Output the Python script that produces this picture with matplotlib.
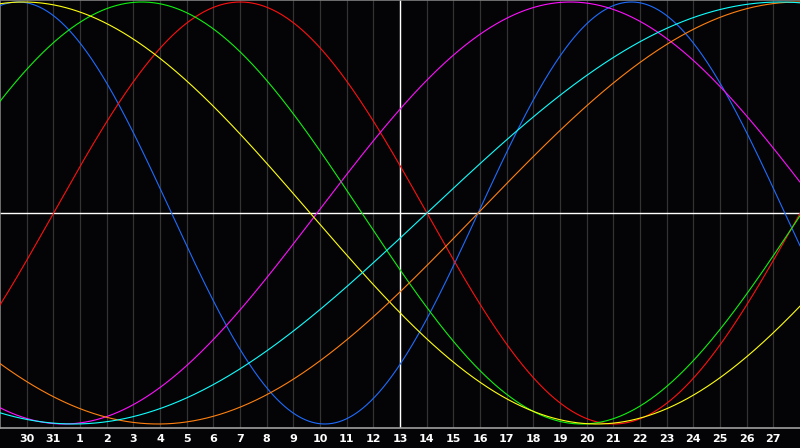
import matplotlib
matplotlib.use("Agg")
import matplotlib.pyplot as plt
import numpy as np

# day labels along the bottom (one grid column per day)
day_labels = ["30", "31"] + [str(d) for d in range(1, 28)]

# cycle lengths in days
periods = [23, 28, 33, 38, 43, 48, 53]
# column position of an upward zero crossing for each cycle
rise_day = [17.93, 2.01, -2.93, 11.89, -9.87, 17.93, 16.01]
colours = ["#1e6cff", "#ff1010", "#10f010", "#ff10ff", "#ffff10", "#ff8010", "#10ffff"]
draw_order = [0, 1, 2, 3, 6, 5, 4]

today_col = 15  # the "13" column with the white cursor line
n_cols = 30


def cycle(u, period, start):
    return np.sin(2 * np.pi * (u - start) / period)


def main():
    fig = plt.figure(figsize=(8, 4.48), dpi=100, facecolor="#040406")
    ax = fig.add_axes([0, 20 / 448, 1, 428 / 448])
    ax.set_facecolor("#040406")
    ax.set_xlim(0, n_cols)
    ax.set_ylim(-1.019, 1.0095)

    for i in range(1, n_cols):
        ax.axvline(i, color="#333333", lw=0.9, zorder=1)

    ax.axhline(0, color="white", lw=1.0, zorder=2)
    ax.axvline(today_col, color="white", lw=1.0, zorder=2)

    u = np.linspace(0, n_cols, 1200)
    for k in draw_order:
        ax.plot(u, cycle(u, periods[k], rise_day[k]), color=colours[k],
                lw=0.8, zorder=3 + k)

    for s in ["right"]:
        ax.spines[s].set_visible(False)
    ax.spines["left"].set_color("#808080")
    ax.spines["top"].set_color("#808080")
    ax.spines["bottom"].set_color("#a0a0a0")
    for s in ["left", "top", "bottom"]:
        ax.spines[s].set_linewidth(1.2)

    ax.set_xticks(range(1, len(day_labels) + 1))
    ax.set_xticklabels(day_labels, color="white", fontsize=8,
                       fontweight="bold", family="DejaVu Sans")
    ax.tick_params(axis="x", length=0, pad=4)
    ax.set_yticks([])

    fig.savefig("out.png", dpi=100, facecolor=fig.get_facecolor())


if __name__ == "__main__":
    main()
